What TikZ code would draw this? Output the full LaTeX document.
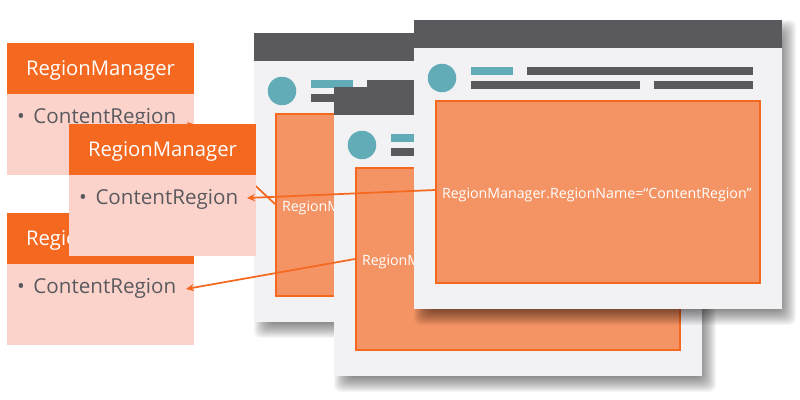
\documentclass[tikz,border=0pt]{standalone}
\usepackage{fontspec}
\setmainfont{Open Sans}
\usetikzlibrary{arrows.meta}
\definecolor{orng}{HTML}{F4681F}
\definecolor{pnk}{HTML}{FBD3CB}
\definecolor{winbg}{HTML}{F2F2F4}
\definecolor{regbg}{HTML}{F49464}
\definecolor{teal2}{HTML}{62ACB7}
\definecolor{dk}{HTML}{5A5A5E}
\tikzset{
  x=0.75pt,y=-0.75pt,
  every node/.style={inner sep=0pt,outer sep=0pt},
  block/.style={anchor=north west,draw=none},
  linkline/.style={draw=orng,line width=1.3pt,-{Stealth[length=6pt,width=5.5pt]}},
  headtext/.style={anchor=base,text=white,font=\fontsize{15.2pt}{18pt}\selectfont},
  itemtext/.style={anchor=base west,text=dk,font=\fontsize{15.45pt}{18pt}\selectfont},
  regtext/.style={anchor=base west,text=white,font=\fontsize{10.65pt}{13pt}\selectfont},
}
\newcommand{\blk}[7]{% name, x, y, w, h, fill
  \node[block,fill=#6,minimum width=#4*0.75pt,minimum height=#5*0.75pt] (#1) at (#2,#3) {#7};}
\newcommand{\winat}[3]{% name,x,y
  \begin{scope}[shift={(#2,#3)}]
    \foreach \e in {9,8,...,-9}
      \fill[black,opacity=0.034,rounded corners=5pt] (9-\e,9-\e) rectangle (373+\e,296+\e);
    \blk{#1frame}{0}{0}{368}{289}{winbg}{}
    \blk{#1head}{0}{0}{368}{28}{dk}{}
    \node[circle,fill=teal2,minimum size=28.5*0.75pt] (#1dot) at (28,58) {};
    \blk{#1a}{57}{47}{42}{7.5}{teal2}{}
    \blk{#1b}{113}{47}{226}{7.5}{dk}{}
    \blk{#1c}{57}{61}{169}{7.5}{dk}{}
    \blk{#1d}{240}{61}{99}{7.5}{dk}{}
    \node[block,fill=regbg,draw=orng,line width=1.5pt,minimum width=324*0.75pt,minimum height=182.5*0.75pt] (#1reg) at (21.5,80.5) {};
    \node[regtext] (#1lab) at (28,178) {RegionManager.RegionName=“ContentRegion”};
  \end{scope}}
\newcommand{\boxat}[3]{% name,x,y
  \begin{scope}[shift={(#2,#3)}]
    \blk{#1body}{0}{0}{187}{132}{pnk}{}
    \blk{#1head}{0}{0}{187}{51}{orng}{}
    \node[headtext] (#1title) at (93.5,32.5) {RegionManager};
    \node[itemtext] (#1bul) at (10,80) {•};
    \node[itemtext] (#1item) at (26.5,80) {ContentRegion};
  \end{scope}}
\begin{document}
\begin{tikzpicture}
\useasboundingbox (0,0) rectangle (800,400);
\coordinate (s1) at (275,204);
\coordinate (t1) at (187,122);
\coordinate (s2) at (355,259);
\coordinate (t2) at (186,289);
\coordinate (s3) at (435,190);
\coordinate (t3) at (247,198);
\winat{wa}{254}{33}
\boxat{ba}{7}{43}
\draw[linkline] (s1) -- (t1);
\boxat{bc}{7}{213}
\boxat{bb}{69}{124}
\winat{wb}{334}{87}
\draw[linkline] (s2) -- (t2);
\winat{wc}{414}{20}
\draw[linkline] (s3) -- (t3);
\end{tikzpicture}
\end{document}
